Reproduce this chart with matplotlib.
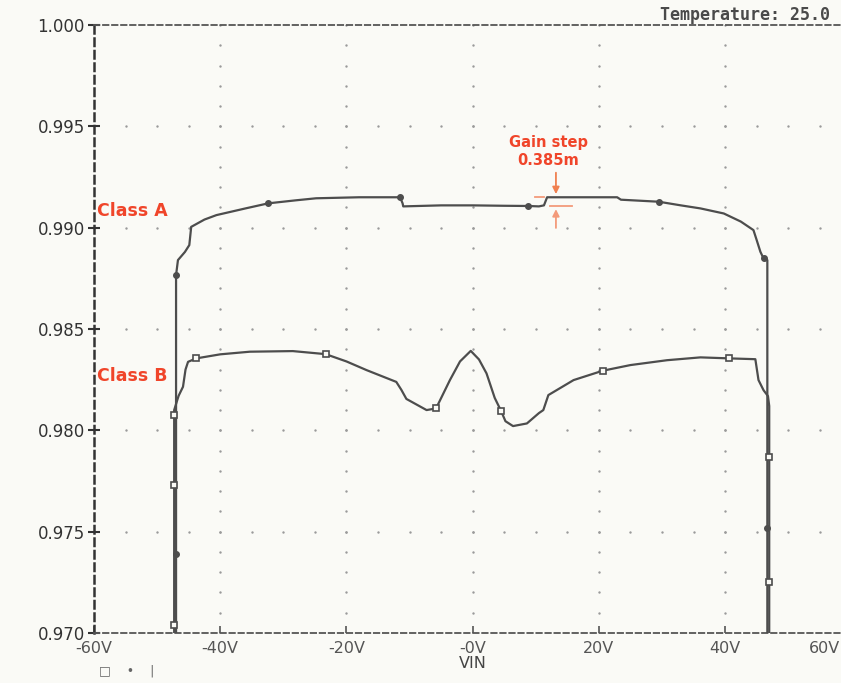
import matplotlib
matplotlib.use("Agg")
import matplotlib.pyplot as plt
from matplotlib.transforms import ScaledTranslation
import numpy as np

# Class A trace (VIN [V], gain)
a_x = [-47.0, -47.0, -46.7, -45.6, -44.9, -44.6, -42.5, -40.6, -36.0, -32.4, -28.0, -24.8,
       -18.0, -11.5, -11.1, -11.0, -5.0, 0.0, 5.0, 8.8, 10.5, 11.3, 11.8, 16.0, 22.9,
       23.5, 29.5, 33.0, 36.1, 39.8, 42.5, 44.5, 45.0, 45.6, 46.1, 46.7, 46.7]
a_y = [0.9695, 0.98766, 0.9884, 0.9888, 0.98914, 0.99004, 0.9904, 0.99062, 0.99095, 0.9912,
       0.99135, 0.99145, 0.9915, 0.9915, 0.9912, 0.99105, 0.9911, 0.9911, 0.99108, 0.99107,
       0.99105, 0.9911, 0.9915, 0.9915, 0.9915, 0.99138, 0.99128, 0.9911, 0.99095, 0.9907,
       0.9903, 0.98988, 0.9894, 0.98881, 0.98848, 0.9884, 0.9695]

# Class B trace
b_x = [-47.3, -47.3, -46.6, -45.9, -45.5, -45.1, -43.8, -40.0, -35.3, -28.5, -23.3, -20.0,
       -16.8, -12.1, -11.3, -10.5, -7.3, -5.8, -3.6, -2.0, -0.3, 1.0, 2.2, 3.5, 4.5, 5.2,
       6.4, 8.6, 10.5, 11.2, 12.0, 16.0, 20.6, 25.0, 30.8, 36.1, 40.7, 44.8, 45.3, 46.1,
       46.8, 47.0, 47.0]
b_y = [0.9695, 0.9810, 0.9817, 0.98215, 0.9830, 0.98338, 0.98355, 0.98375, 0.98388, 0.98391,
       0.98376, 0.9834, 0.98297, 0.98239, 0.9820, 0.98155, 0.98100, 0.98108, 0.98248, 0.9834,
       0.98392, 0.9835, 0.98281, 0.9816, 0.98096, 0.98045, 0.98021, 0.98034, 0.98085,
       0.98100, 0.98174, 0.98248, 0.98294, 0.98322, 0.98346, 0.98360, 0.98355, 0.98351,
       0.98248, 0.98198, 0.98169, 0.9812, 0.9695]

# symbol positions on the traces
a_mx = [-47.0, -32.4, -11.5, 8.8, 29.5, 46.1, -47.0, 46.7]
a_my = [0.98766, 0.9912, 0.9915, 0.99107, 0.99128, 0.98848, 0.97389, 0.97520]
b_mx = [-47.3, -43.8, -23.3, -5.8, 4.5, 20.6, 40.7, -47.3, 47.0, 47.0, -47.3]
b_my = [0.98075, 0.98355, 0.98376, 0.98108, 0.98096, 0.98294, 0.98355, 0.97729, 0.97870,
        0.97250, 0.97040]

x_ticks = [-60, -40, -20, 0, 20, 40, 60]
x_labels = ["-60V", "-40V", "-20V", "-0V", "20V", "40V", "60V"]
y_ticks = [0.970, 0.975, 0.980, 0.985, 0.990, 0.995, 1.000]
y_labels = ["0.970", "0.975", "0.980", "0.985", "0.990", "0.995", "1.000"]

paper = "#fafaf6"
ink = "#4d4d4d"
red = "#f0452a"

fig = plt.figure(figsize=(8.41, 6.83), dpi=100, facecolor=paper)
ax = fig.add_axes([0.1118, 0.0732, 0.9004, 0.8902])
ax.set_facecolor(paper)
ax.set_xlim(-60, 60)
ax.set_ylim(0.970, 1.000)

# dotted grid: dots every 5V along major rows, every 0.001 along major columns
gx = np.arange(-55, 60, 5)
for yv in y_ticks[1:-1]:
    ax.scatter(gx, np.full(len(gx), yv), s=3, color="#9a9a9a", linewidths=0, zorder=1)
gy = np.arange(0.971, 1.0, 0.001)
for xv in x_ticks[1:-1]:
    ax.scatter(np.full(len(gy), xv), gy, s=3, color="#9a9a9a", linewidths=0, zorder=1)

ax.plot(a_x, a_y, color=ink, lw=1.6, zorder=3)
ax.plot(b_x, b_y, color=ink, lw=1.6, zorder=3)
ax.plot(a_mx, a_my, ls="none", marker="o", ms=4, color=ink, zorder=4)
ax.plot(b_mx, b_my, ls="none", marker="s", ms=4, mfc=paper, mec=ink, mew=1.2, zorder=4)

# frame
for side in ["left", "top", "bottom"]:
    ax.spines[side].set_linestyle((0, (3, 2)))
    ax.spines[side].set_color("#555555")
ax.spines["left"].set_linewidth(1.8)
ax.spines["left"].set_color("#333333")
ax.spines["top"].set_linewidth(1.3)
ax.spines["bottom"].set_linewidth(1.3)
ax.spines["right"].set_visible(False)

ax.set_xticks(x_ticks)
ax.set_xticklabels(x_labels)
ax.set_yticks(y_ticks)
ax.set_yticklabels(y_labels)
ax.tick_params(axis="y", direction="inout", length=9, width=1.5, colors="#333333",
               labelsize=12, pad=2)
ax.tick_params(axis="x", direction="in", length=5, width=1.2, colors="#555555",
               labelsize=11.5, pad=6)
ax.set_xlabel("VIN", fontsize=11.5, color="#444444", labelpad=0)

# last x label is pulled in so it stays on the page
last = ax.get_xticklabels()[-1]
last.set_transform(last.get_transform() + ScaledTranslation(-0.27, 0, fig.dpi_scale_trans))

# annotations
ax.text(-59.5, 0.9904, "Class A", color=red, fontsize=12.5, fontweight="bold",
        ha="left", va="bottom")
ax.text(-59.5, 0.9827, "Class B", color=red, fontsize=12.5, fontweight="bold",
        ha="left", va="center")
ax.text(12.0, 0.99375, "Gain step\n0.385m", color=red, fontsize=10.5, fontweight="bold",
        ha="center", va="center", linespacing=1.3)
arrow_c = "#f39a7a"
ax.annotate("", xy=(13.2, 0.99152), xytext=(13.2, 0.99285),
            arrowprops=dict(arrowstyle="-|>", color="#f08050", lw=1.3, mutation_scale=10))
ax.annotate("", xy=(13.2, 0.99105), xytext=(13.2, 0.98985),
            arrowprops=dict(arrowstyle="-|>", color=arrow_c, lw=1.3, mutation_scale=10))
ax.plot([9.9, 11.3], [0.99152, 0.99152], color=arrow_c, lw=1.3)
ax.plot([12.2, 15.7], [0.99105, 0.99105], color=arrow_c, lw=1.3)

fig.text(0.785, 0.978, "Temperature: 25.0", fontsize=12, fontweight="bold",
         family="DejaVu Sans Mono", color="#4a4a4a", ha="left", va="center")
fig.text(0.118, 0.008, "\u25a1    \u2022    |", fontsize=9, color="#666666", ha="left", va="bottom")

fig.savefig("out.png", dpi=100, facecolor=paper)
